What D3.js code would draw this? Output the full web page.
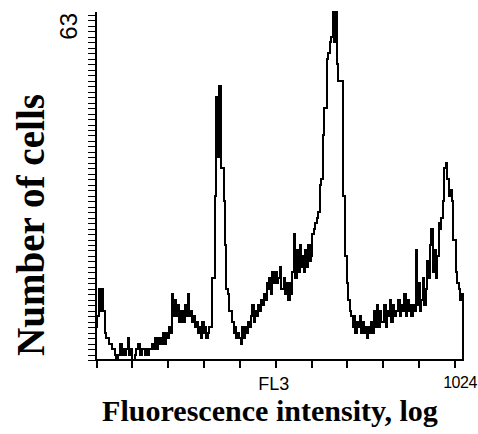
<!DOCTYPE html>
<html>
<head>
<meta charset="utf-8">
<script src="https://cdn.jsdelivr.net/npm/d3@7"></script>
<style>
  html, body { margin: 0; padding: 0; background: #fff; }
  svg { display: block; }
</style>
</head>
<body>
<svg id="chart" width="478" height="434"></svg>
<script>
// ---- data ----
const channelMax = 1024;
const binWidth = 4;                 // 256 display bins over 1024 channels
const counts = [
  6, 8, 13, 9, 13, 9, 5, 4, 4, 3,
  3, 2, 2, 1, 0, 1, 1, 3, 1, 2,
  1, 2, 4, 1, 2, 0, 0, 1, 2, 3,
  3, 1, 2, 2, 1, 2, 1, 2, 2, 3,
  2, 4, 2, 4, 3, 4, 3, 5, 3, 5,
  4, 6, 5, 12, 8, 11, 8, 10, 7, 9,
  9, 7, 10, 8, 12, 8, 9, 7, 8, 6,
  7, 5, 6, 4, 7, 5, 6, 4, 5, 6,
  6, 15, 15, 30, 48, 37, 50, 35, 35, 29,
  21, 13, 12, 9, 9, 7, 5, 6, 4, 5,
  4, 3, 6, 4, 6, 5, 7, 6, 8, 10,
  7, 9, 8, 10, 9, 11, 10, 12, 11, 14,
  13, 15, 12, 16, 14, 16, 14, 15, 17, 13,
  13, 15, 12, 14, 11, 14, 12, 16, 23, 15,
  20, 16, 21, 17, 19, 16, 20, 17, 21, 18,
  19, 23, 24, 25, 26, 27, 32, 33, 41, 46,
  46, 55, 56, 58, 59, 63.5, 58, 63.5, 54, 51,
  51, 51, 30, 30, 19, 14, 11, 9, 8, 6,
  8, 5, 7, 6, 8, 5, 7, 5, 6, 4,
  6, 5, 7, 5, 9, 6, 10, 6, 9, 7,
  7, 10, 6, 9, 8, 11, 7, 10, 8, 9,
  9, 11, 8, 10, 9, 12, 8, 11, 9, 10,
  8, 10, 9, 20, 10, 14, 9, 11, 15, 10,
  13, 18, 15, 21, 24, 16, 20, 15, 19, 25,
  24, 26, 29, 35, 36, 33, 30, 31, 29, 22,
  22, 16, 14, 13, 11, 12
];
const yMax = 63;
const yTickValues = d3.range(0, 64);          // one tick per count
const xTickValues = d3.range(0, 1001, 100);   // 0 ... 1000
const yTopLabel = "63";
const xMidLabel = "FL3";
const xEndLabel = "1024";
const xTitle = "Fluorescence intensity, log";
const yTitle = "Number of cells";

// ---- drawing ----
const svg = d3.select("#chart");
const x = d3.scaleLinear().domain([0, channelMax]).range([96, 463]);
const y = d3.scaleLinear().domain([0, yMax]).range([360, 15]);

// y ticks
const yAxis = d3.axisLeft(y).tickValues(yTickValues).tickSize(8).tickFormat("");
const gy = svg.append("g").attr("transform", "translate(96,0)")
  .attr("shape-rendering", "crispEdges").call(yAxis);
gy.select(".domain").remove();
gy.selectAll(".tick line").attr("stroke", "#000").attr("stroke-width", 1);

// x ticks
const xAxis = d3.axisBottom(x).tickValues(xTickValues).tickSize(8).tickFormat("");
const gx = svg.append("g").attr("transform", "translate(0,360)")
  .attr("shape-rendering", "crispEdges").call(xAxis);
gx.select(".domain").remove();
gx.selectAll(".tick line").attr("stroke", "#000").attr("stroke-width", 2);

// axis lines
svg.append("line").attr("x1", x(0)).attr("x2", x(0))
  .attr("y1", y(0) + 1).attr("y2", y(63.6))
  .attr("stroke", "#000").attr("stroke-width", 2).attr("shape-rendering", "crispEdges");
svg.append("line").attr("x1", x(0) - 1).attr("x2", x(channelMax) + 1)
  .attr("y1", y(0)).attr("y2", y(0))
  .attr("stroke", "#000").attr("stroke-width", 2).attr("shape-rendering", "crispEdges");

// histogram step line
const pts = [[0, 0]];
counts.forEach((c, i) => pts.push([i * binWidth, c]));
pts.push([channelMax, counts[counts.length - 1]]);
pts.push([channelMax, 0]);
const line = d3.line().x(d => x(d[0])).y(d => y(d[1])).curve(d3.curveStepAfter);
svg.append("path").datum(pts).attr("d", line)
  .attr("fill", "none").attr("stroke", "#000").attr("stroke-width", 2)
  .attr("stroke-linejoin", "miter").attr("shape-rendering", "crispEdges");

// tick labels
const sans = "'Liberation Sans', Arial, Helvetica, sans-serif";
svg.append("text").text(yTopLabel)
  .attr("transform", "translate(77," + (y(yMax) - 2) + ") rotate(-90)")
  .attr("text-anchor", "end").attr("font-family", sans).attr("font-size", 24).attr("fill", "#000");
svg.append("text").text(xMidLabel)
  .attr("x", x(496)).attr("y", 390).attr("text-anchor", "middle")
  .attr("font-family", sans).attr("font-size", 18).attr("fill", "#000");
svg.append("text").text(xEndLabel)
  .attr("x", 460).attr("y", 388).attr("text-anchor", "middle")
  .attr("font-family", sans).attr("font-size", 16).attr("letter-spacing", -0.5).attr("fill", "#000");

// axis titles (bold serif), sized to fit the reference extents
const serif = "'Liberation Serif', 'Times New Roman', Times, serif";
function fit(t, target) {
  const w = t.node().getComputedTextLength();
  const fs = +t.attr("font-size");
  t.attr("font-size", fs * target / w);
}
const xt = svg.append("text").text(xTitle)
  .attr("x", 270).attr("y", 421).attr("text-anchor", "middle")
  .attr("font-family", serif).attr("font-weight", "bold").attr("font-size", 30).attr("fill", "#000");
fit(xt, 336);
const yt = svg.append("text").text(yTitle)
  .attr("transform", "translate(44,225) rotate(-90)")
  .attr("text-anchor", "middle")
  .attr("font-family", serif).attr("font-weight", "bold").attr("font-size", 36).attr("fill", "#000");
fit(yt, 262);
</script>
</body>
</html>
